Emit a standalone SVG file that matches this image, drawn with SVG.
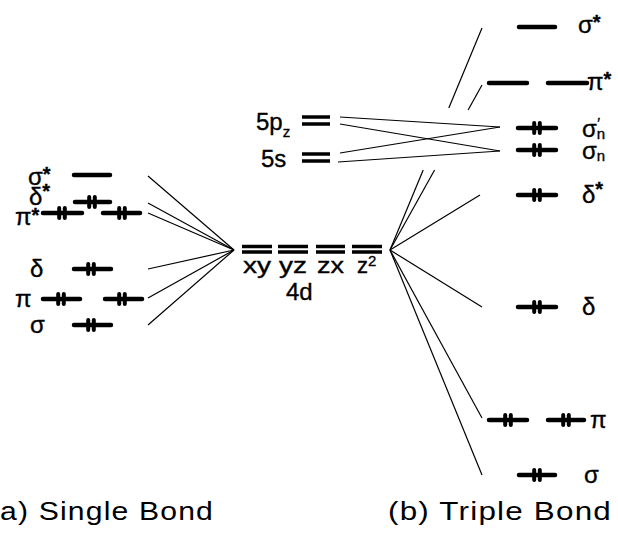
<svg xmlns="http://www.w3.org/2000/svg" width="618" height="547" viewBox="0 0 618 547">
  <style>
    .lv { stroke: #000; stroke-width: 4.5; stroke-linecap: round; fill: none; }
    .bar { stroke: #000; stroke-width: 3.5; stroke-linecap: butt; fill: none; }
    .e { stroke: #000; stroke-width: 4; stroke-linecap: round; }
    .ln { stroke: #000; stroke-width: 1.2; fill: none; }
    text { font-family: "Liberation Sans", "DejaVu Sans", sans-serif; fill: #000; stroke: #000; stroke-width: 0.35; }
    .g { font-size: 24px; }
    .st { font-size: 20px; font-weight: bold; }
    .sub { font-size: 15px; }
    .orb { font-size: 22px; }
    .cap { font-size: 26px; stroke-width: 0; letter-spacing: 1px; }
  </style>
  <defs>
    <!-- electron pair: two short vertical strokes centred on the origin -->
    <g id="pair">
      <line class="e" x1="-2.8" y1="-5" x2="-2.8" y2="5"/>
      <line class="e" x1="2.8" y1="-5" x2="2.8" y2="5"/>
    </g>
  </defs>

  <rect width="618" height="547" fill="#fff"/>

  <!-- connectors -->
  <g id="connectors">
    <!-- single bond: ligand-field levels to the 4d set -->
    <line class="ln" x1="148" y1="176" x2="234" y2="250"/>
    <line class="ln" x1="148" y1="203" x2="234" y2="250"/>
    <line class="ln" x1="148" y1="213" x2="234" y2="250"/>
    <line class="ln" x1="148" y1="269" x2="234" y2="250"/>
    <line class="ln" x1="148" y1="298" x2="234" y2="250"/>
    <line class="ln" x1="148" y1="325" x2="234" y2="250"/>
    <!-- 5p_z / 5s mixing into the sigma_n pair -->
    <line class="ln" x1="340" y1="117" x2="500" y2="127"/>
    <line class="ln" x1="340" y1="124" x2="500" y2="151"/>
    <line class="ln" x1="340" y1="153" x2="500" y2="127"/>
    <line class="ln" x1="338" y1="162" x2="500" y2="151"/>
    <!-- triple bond: 4d set to the metal-metal levels -->
    <line class="ln" x1="390" y1="250" x2="423.2" y2="170"/>
    <line class="ln" x1="448.8" y1="108" x2="482" y2="28"/>
    <line class="ln" x1="390" y1="250" x2="434.6" y2="170"/>
    <line class="ln" x1="468.1" y1="110" x2="482" y2="85"/>
    <line class="ln" x1="390" y1="250" x2="480" y2="195"/>
    <line class="ln" x1="390" y1="250" x2="482" y2="307"/>
    <line class="ln" x1="390" y1="250" x2="482" y2="418"/>
    <line class="ln" x1="390" y1="250" x2="482" y2="475"/>
  </g>

  <!-- (a) single bond levels -->
  <g id="a-sigma-star">
    <line class="lv" x1="74" y1="175" x2="110" y2="175"/>
    <text class="g" x="28" y="185">σ<tspan class="st" dy="-4">*</tspan></text>
  </g>
  <g id="a-delta-star">
    <line class="lv" x1="75" y1="202" x2="110" y2="202"/>
    <use href="#pair" x="92" y="202"/>
    <text class="g" x="29" y="205">δ<tspan class="st" dy="-7">*</tspan></text>
  </g>
  <g id="a-pi-star">
    <line class="lv" x1="43" y1="213" x2="82" y2="213"/>
    <use href="#pair" x="62" y="213"/>
    <line class="lv" x1="103" y1="213" x2="140" y2="213"/>
    <use href="#pair" x="122" y="213"/>
    <text class="g" x="15" y="225">π<tspan class="st" dy="-3">*</tspan></text>
  </g>
  <g id="a-delta">
    <line class="lv" x1="74" y1="269" x2="111" y2="269"/>
    <use href="#pair" x="91" y="269"/>
    <text class="g" x="30" y="277">δ</text>
  </g>
  <g id="a-pi">
    <line class="lv" x1="43" y1="299" x2="80" y2="299"/>
    <use href="#pair" x="61" y="299"/>
    <line class="lv" x1="105" y1="299" x2="142" y2="299"/>
    <use href="#pair" x="122" y="299"/>
    <text class="g" x="15" y="307">π</text>
  </g>
  <g id="a-sigma">
    <line class="lv" x1="74" y1="325" x2="111" y2="325"/>
    <use href="#pair" x="91" y="325"/>
    <text class="g" x="30" y="333">σ</text>
  </g>

  <!-- metal atomic orbitals -->
  <g id="m-5pz">
    <line class="bar" x1="302" y1="117" x2="330" y2="117"/>
    <line class="bar" x1="302" y1="124" x2="330" y2="124"/>
    <text class="g" x="256" y="130">5p<tspan class="sub" dy="7">z</tspan></text>
  </g>
  <g id="m-5s">
    <line class="bar" x1="302" y1="154" x2="330" y2="154"/>
    <line class="bar" x1="302" y1="161" x2="330" y2="161"/>
    <text class="g" x="261" y="167">5s</text>
  </g>
  <g id="m-4d">
    <line class="bar" x1="242" y1="246.5" x2="272" y2="246.5"/>
    <line class="bar" x1="242" y1="252" x2="272" y2="252"/>
    <line class="bar" x1="278" y1="246.5" x2="308" y2="246.5"/>
    <line class="bar" x1="278" y1="252" x2="308" y2="252"/>
    <line class="bar" x1="316" y1="246.5" x2="345" y2="246.5"/>
    <line class="bar" x1="316" y1="252" x2="345" y2="252"/>
    <line class="bar" x1="352" y1="246.5" x2="382" y2="246.5"/>
    <line class="bar" x1="352" y1="252" x2="382" y2="252"/>
    <text class="orb" x="243" y="273" textLength="28" lengthAdjust="spacingAndGlyphs">xy</text>
    <text class="orb" x="279" y="273" textLength="28" lengthAdjust="spacingAndGlyphs">yz</text>
    <text class="orb" x="317" y="273" textLength="27" lengthAdjust="spacingAndGlyphs">zx</text>
    <text class="orb" x="357" y="273">z<tspan class="sub" dy="-7">2</tspan></text>
    <text class="g" x="286" y="300">4d</text>
  </g>

  <!-- (b) triple bond levels -->
  <g id="b-sigma-star">
    <line class="lv" x1="519" y1="27" x2="555" y2="27"/>
    <text class="g" x="578" y="33">σ<tspan class="st" dy="-4">*</tspan></text>
  </g>
  <g id="b-pi-star">
    <line class="lv" x1="489" y1="83" x2="527" y2="83"/>
    <line class="lv" x1="548" y1="83" x2="587" y2="83"/>
    <text class="g" x="587" y="90">π<tspan class="st" dy="-4">*</tspan></text>
  </g>
  <g id="b-sigma-n-prime">
    <line class="lv" x1="518" y1="128" x2="556" y2="128"/>
    <use href="#pair" x="537" y="128"/>
    <text class="g" x="582" y="137">σ<tspan class="sub" dy="2">n</tspan><tspan class="sub" dx="-8" dy="-11">′</tspan></text>
  </g>
  <g id="b-sigma-n">
    <line class="lv" x1="518" y1="150" x2="556" y2="150"/>
    <use href="#pair" x="537" y="150"/>
    <text class="g" x="582" y="159">σ<tspan class="sub" dy="2">n</tspan></text>
  </g>
  <g id="b-delta-star">
    <line class="lv" x1="518" y1="195" x2="556" y2="195"/>
    <use href="#pair" x="537" y="195"/>
    <text class="g" x="582" y="203">δ<tspan class="st" dy="-7">*</tspan></text>
  </g>
  <g id="b-delta">
    <line class="lv" x1="518" y1="307" x2="556" y2="307"/>
    <use href="#pair" x="537" y="307"/>
    <text class="g" x="582" y="315">δ</text>
  </g>
  <g id="b-pi">
    <line class="lv" x1="489" y1="420" x2="527" y2="420"/>
    <use href="#pair" x="508" y="420"/>
    <line class="lv" x1="548" y1="420" x2="584" y2="420"/>
    <use href="#pair" x="566" y="420"/>
    <text class="g" x="590" y="428">π</text>
  </g>
  <g id="b-sigma">
    <line class="lv" x1="519" y1="475" x2="555" y2="475"/>
    <use href="#pair" x="537" y="475"/>
    <text class="g" x="584" y="483">σ</text>
  </g>

  <!-- panel captions -->
  <g id="captions">
    <text class="cap" x="0" y="520" textLength="214" lengthAdjust="spacingAndGlyphs">a) Single Bond</text>
    <text class="cap" x="388" y="520" textLength="224" lengthAdjust="spacingAndGlyphs">(b) Triple Bond</text>
  </g>
</svg>
